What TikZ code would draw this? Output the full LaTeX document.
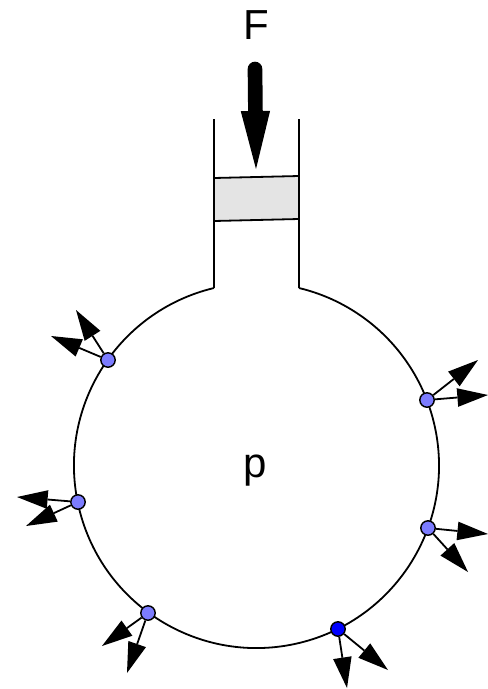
\documentclass[tikz,border=0pt]{standalone}
\usepackage{fontspec}
\setmainfont{Liberation Sans}
\usetikzlibrary{arrows.meta}
\definecolor{PointBlue}{RGB}{124,124,255}
\definecolor{PureBlue}{RGB}{0,0,255}
\definecolor{PistonGray}{RGB}{228,228,228}
\tikzset{
  wall/.style={draw=black,line width=1.35pt},
  pt/.style={circle,draw=black,fill=PointBlue,line width=1.1pt,inner sep=0pt,minimum size=10.8pt},
  arr/.style={-{Triangle[length=23pt,width=14pt,line width=0pt]},black,line width=1.35pt},
  lbl/.style={font=\fontsize{31.5pt}{34pt}\selectfont,inner sep=0pt},
}
\begin{document}
\begin{tikzpicture}[x=0.75pt,y=-0.75pt]
\useasboundingbox (0,0) rectangle (488,689);
\coordinate (wl) at (214,119);
\coordinate (wr) at (299,119);
\coordinate (nl) at (214,288);
\coordinate (nr) at (299,288);
\coordinate (ptl) at (214,178);
\coordinate (ptr) at (299,176);
\coordinate (pbr) at (299,219);
\coordinate (pbl) at (214,221);
\coordinate (ftail) at (255,69);
\coordinate (ftip) at (256,169);

\draw[wall,fill=PistonGray] (ptl)--(ptr)--(pbr)--(pbl)--cycle;
\draw[wall] (wl)--(nl);
\draw[wall] (wr)--(nr);
\draw[wall] (nl) arc[start angle=103.46,end angle=436.54,radius=136.9pt];

\node[pt] (p1) at (108,360) {};
\node[pt] (p2) at (78,502) {};
\node[pt] (p3) at (148,613) {};
\node[pt,fill=PureBlue] (p4) at (338,629) {};
\node[pt] (p5) at (428,528) {};
\node[pt] (p6) at (427,400) {};

\coordinate (a1) at (76,310);
\coordinate (b1) at (51,336);
\coordinate (a2) at (17,497);
\coordinate (b2) at (26,526);
\coordinate (a3) at (102,646);
\coordinate (b3) at (127,673);
\coordinate (a4) at (347,688);
\coordinate (b4) at (388,670);
\coordinate (a5) at (488,534);
\coordinate (b5) at (468,572);
\coordinate (a6) at (478,360);
\coordinate (b6) at (488,395);

\draw[arr] (p1)--(a1);
\draw[arr] (p1)--(b1);
\draw[arr] (p2)--(a2);
\draw[arr] (p2)--(b2);
\draw[arr] (p3)--(a3);
\draw[arr] (p3)--(b3);
\draw[arr] (p4)--(a4);
\draw[arr] (p4)--(b4);
\draw[arr] (p5)--(a5);
\draw[arr] (p5)--(b5);
\draw[arr] (p6)--(a6);
\draw[arr] (p6)--(b6);

\draw[-{Triangle[length=43.5pt,width=22pt,line width=0pt]},line width=11pt,line cap=round] (ftail)--(ftip);

\node[lbl] (force) at (256,25) {F};
\node[lbl] (pressure) at (255,471) {p};
\end{tikzpicture}
\end{document}
